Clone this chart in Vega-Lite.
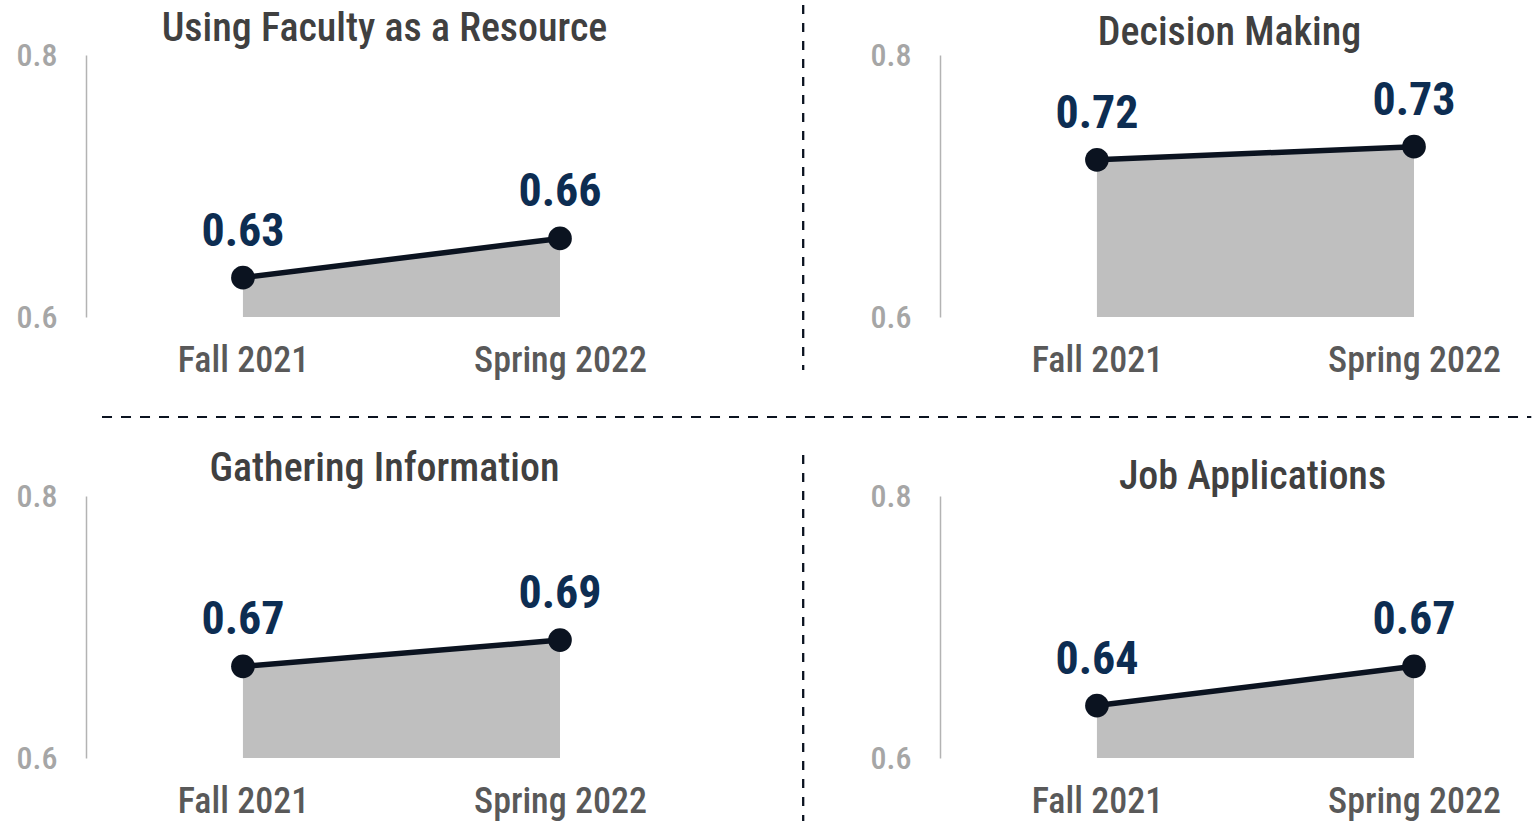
{
  "$schema": "https://vega.github.io/schema/vega-lite/v6.json",
  "padding": {"left": 16, "top": 3, "right": 0, "bottom": 0},
  "background": "white",
  "bounds": "flush",
  "columns": 2,
  "spacing": {"column": 263, "row": 179},
  "datasets": {
    "scores": [
      {"panel": "Using Faculty as a Resource", "t": 0, "period": "Fall 2021", "score": 0.63},
      {"panel": "Using Faculty as a Resource", "t": 1, "period": "Spring 2022", "score": 0.66},
      {"panel": "Decision Making", "t": 0, "period": "Fall 2021", "score": 0.72},
      {"panel": "Decision Making", "t": 1, "period": "Spring 2022", "score": 0.73},
      {"panel": "Gathering Information", "t": 0, "period": "Fall 2021", "score": 0.67},
      {"panel": "Gathering Information", "t": 1, "period": "Spring 2022", "score": 0.69},
      {"panel": "Job Applications", "t": 0, "period": "Fall 2021", "score": 0.64},
      {"panel": "Job Applications", "t": 1, "period": "Spring 2022", "score": 0.67}
    ]
  },
  "config": {
    "view": {"stroke": null},
    "font": "'Roboto Condensed', 'DejaVu Sans Condensed', sans-serif",
    "title": {"fontSize": 40, "fontWeight": 500, "color": "#404040", "anchor": "middle", "font": "'Roboto Condensed', 'DejaVu Sans Condensed', sans-serif"},
    "axisY": {
      "grid": false, "ticks": false,
      "domainColor": "#b3b3b3", "domainWidth": 1.5,
      "labelColor": "#a6a6a6", "labelFontSize": 32, "labelFontWeight": 500, "labelPadding": 29, "title": null
    },
    "axisX": {
      "grid": false, "ticks": false, "domain": false,
      "labelColor": "#595959", "labelFontSize": 36, "labelFontWeight": 500, "labelPadding": 26, "title": null
    }
  },
  "concat": [
    {
      "width": 591, "height": 262,
      "title": {"text": "Using Faculty as a Resource", "dx": 3, "offset": -45},
      "data": {"name": "scores"},
      "transform": [{"filter": "datum.panel === 'Using Faculty as a Resource'"}],
      "encoding": {
        "x": {"field": "t", "type": "quantitative", "scale": {"domain": [-0.495, 1.369], "nice": false, "zero": false},
              "axis": {"values": [0, 1], "labelExpr": "datum.value == 0 ? 'Fall 2021' : 'Spring 2022'"}},
        "y": {"field": "score", "type": "quantitative", "scale": {"domain": [0.6, 0.8], "nice": false, "zero": false},
              "axis": {"values": [0.6, 0.8], "format": ".1f"}}
      },
      "layer": [
        {"mark": {"type": "area", "color": "#bfbfbf"}, "encoding": {"y2": {"datum": 0.6}}},
        {"mark": {"type": "line", "color": "#0b1320", "strokeWidth": 5.5}},
        {"mark": {"type": "point", "filled": true, "color": "#0b1320", "size": 560, "opacity": 1}},
        {"mark": {"type": "text", "color": "#0d2d52", "fontSize": 46, "fontWeight": "bold", "baseline": "alphabetic", "dy": -32}, "encoding": {"text": {"field": "score", "type": "quantitative", "format": ".2f"}}},
        {"mark": {"type": "rule", "color": "#0b1320", "strokeWidth": 2, "strokeDash": [9, 9]},
         "encoding": {"x": {"datum": 1.767}, "y": {"datum": 0.8382}, "y2": {"datum": 0.5595}}},
        {"mark": {"type": "rule", "color": "#0b1320", "strokeWidth": 2, "strokeDash": [10, 9]},
         "encoding": {"x": {"datum": -0.4445}, "x2": {"datum": 4.063}, "y": {"datum": 0.5237}}}
      ]
    },
    {
      "width": 591, "height": 262,
      "title": {"text": "Decision Making", "dx": -6, "offset": -14},
      "data": {"name": "scores"},
      "transform": [{"filter": "datum.panel === 'Decision Making'"}],
      "encoding": {
        "x": {"field": "t", "type": "quantitative", "scale": {"domain": [-0.495, 1.369], "nice": false, "zero": false},
              "axis": {"values": [0, 1], "labelExpr": "datum.value == 0 ? 'Fall 2021' : 'Spring 2022'"}},
        "y": {"field": "score", "type": "quantitative", "scale": {"domain": [0.6, 0.8], "nice": false, "zero": false},
              "axis": {"values": [0.6, 0.8], "format": ".1f"}}
      },
      "layer": [
        {"mark": {"type": "area", "color": "#bfbfbf"}, "encoding": {"y2": {"datum": 0.6}}},
        {"mark": {"type": "line", "color": "#0b1320", "strokeWidth": 5.5}},
        {"mark": {"type": "point", "filled": true, "color": "#0b1320", "size": 560, "opacity": 1}},
        {"mark": {"type": "text", "color": "#0d2d52", "fontSize": 46, "fontWeight": "bold", "baseline": "alphabetic", "dy": -32}, "encoding": {"text": {"field": "score", "type": "quantitative", "format": ".2f"}}}
      ]
    },
    {
      "width": 591, "height": 262,
      "title": {"text": "Gathering Information", "dx": 3, "offset": -35},
      "data": {"name": "scores"},
      "transform": [{"filter": "datum.panel === 'Gathering Information'"}],
      "encoding": {
        "x": {"field": "t", "type": "quantitative", "scale": {"domain": [-0.495, 1.369], "nice": false, "zero": false},
              "axis": {"values": [0, 1], "labelExpr": "datum.value == 0 ? 'Fall 2021' : 'Spring 2022'"}},
        "y": {"field": "score", "type": "quantitative", "scale": {"domain": [0.6, 0.8], "nice": false, "zero": false},
              "axis": {"values": [0.6, 0.8], "format": ".1f"}}
      },
      "layer": [
        {"mark": {"type": "area", "color": "#bfbfbf"}, "encoding": {"y2": {"datum": 0.6}}},
        {"mark": {"type": "line", "color": "#0b1320", "strokeWidth": 5.5}},
        {"mark": {"type": "point", "filled": true, "color": "#0b1320", "size": 560, "opacity": 1}},
        {"mark": {"type": "text", "color": "#0d2d52", "fontSize": 46, "fontWeight": "bold", "baseline": "alphabetic", "dy": -32}, "encoding": {"text": {"field": "score", "type": "quantitative", "format": ".2f"}}},
        {"mark": {"type": "rule", "color": "#0b1320", "strokeWidth": 2, "strokeDash": [9, 9]},
         "encoding": {"x": {"datum": 1.767}, "y": {"datum": 0.8313}, "y2": {"datum": 0.552}}}
      ]
    },
    {
      "width": 591, "height": 262,
      "title": {"text": "Job Applications", "dx": 17, "offset": -17},
      "data": {"name": "scores"},
      "transform": [{"filter": "datum.panel === 'Job Applications'"}],
      "encoding": {
        "x": {"field": "t", "type": "quantitative", "scale": {"domain": [-0.495, 1.369], "nice": false, "zero": false},
              "axis": {"values": [0, 1], "labelExpr": "datum.value == 0 ? 'Fall 2021' : 'Spring 2022'"}},
        "y": {"field": "score", "type": "quantitative", "scale": {"domain": [0.6, 0.8], "nice": false, "zero": false},
              "axis": {"values": [0.6, 0.8], "format": ".1f"}}
      },
      "layer": [
        {"mark": {"type": "area", "color": "#bfbfbf"}, "encoding": {"y2": {"datum": 0.6}}},
        {"mark": {"type": "line", "color": "#0b1320", "strokeWidth": 5.5}},
        {"mark": {"type": "point", "filled": true, "color": "#0b1320", "size": 560, "opacity": 1}},
        {"mark": {"type": "text", "color": "#0d2d52", "fontSize": 46, "fontWeight": "bold", "baseline": "alphabetic", "dy": -32}, "encoding": {"text": {"field": "score", "type": "quantitative", "format": ".2f"}}}
      ]
    }
  ]
}
